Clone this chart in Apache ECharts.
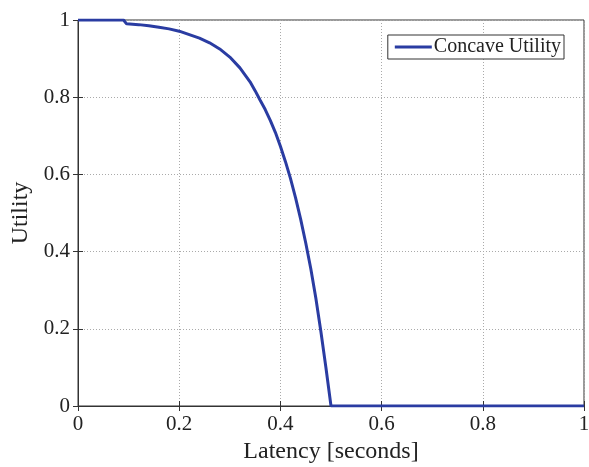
<!DOCTYPE html>
<html>
<head>
<meta charset="utf-8">
<script src="https://cdn.jsdelivr.net/npm/echarts@6/dist/echarts.min.js"></script>
<style>
  html, body { margin: 0; padding: 0; background: #fff; }
  #chart { width: 589px; height: 467px; }
</style>
</head>
<body>
<div id="chart"></div>
<script>
// Latency (seconds) and the utility of a concave utility function
const latency = [0, 0.09, 0.096, 0.12, 0.14, 0.16, 0.18, 0.20, 0.22, 0.24, 0.26, 0.28, 0.30, 0.32, 0.34, 0.35, 0.36, 0.37, 0.38, 0.39, 0.40, 0.41, 0.42, 0.43, 0.44, 0.45, 0.46, 0.47, 0.48, 0.49, 0.50, 1.0];
const utility = [1, 1, 0.99, 0.988, 0.985, 0.981, 0.977, 0.971, 0.962, 0.953, 0.941, 0.925, 0.904, 0.876, 0.840, 0.817, 0.792, 0.768, 0.740, 0.709, 0.673, 0.633, 0.589, 0.539, 0.484, 0.423, 0.356, 0.280, 0.193, 0.099, 0, 0];
const xTicks = [0, 0.2, 0.4, 0.6, 0.8, 1];
const yTicks = [0, 0.2, 0.4, 0.6, 0.8, 1];
const seriesName = 'Concave Utility';

const serif = '"Liberation Serif", "DejaVu Serif", serif';
const axisColor = '#333';
const lineColor = '#2a3ca2';

const points = latency.map((x, i) => [x, utility[i]]);

function baseAxis(extra) {
  return Object.assign({
    type: 'value',
    min: 0,
    max: 1,
    interval: 0.2,
    axisLine: { show: true, lineStyle: { color: axisColor, width: 1 } },
    axisTick: { show: true, inside: true, length: 5, lineStyle: { color: axisColor } },
    splitLine: { show: false },
    axisLabel: { show: false }
  }, extra);
}

const gridDots = { show: true, lineStyle: { color: '#aaa', type: [1, 2], width: 1 } };

const chart = echarts.init(document.getElementById('chart'), null, { renderer: 'canvas' });
chart.setOption({
  backgroundColor: '#fff',
  animation: false,
  grid: {
    left: 78, top: 20, width: 506, height: 386,
    containLabel: false,
    outerBoundsMode: 'none',
    show: true, borderColor: axisColor, borderWidth: 1
  },
  legend: {
    data: [{ name: seriesName, icon: 'rect' }],
    right: 25,
    top: 35,
    orient: 'vertical',
    itemWidth: 37,
    itemHeight: 3,
    padding: [2, 3, 2, 7],
    borderColor: '#333',
    borderWidth: 1,
    backgroundColor: '#fff',
    textStyle: { fontFamily: serif, fontSize: 20, lineHeight: 20, color: '#222', padding: [0, 0, 0, -3] }
  },
  xAxis: [
    baseAxis({
      position: 'bottom',
      name: 'Latency [seconds]',
      nameLocation: 'middle',
      nameGap: 33,
      nameTextStyle: { fontFamily: serif, fontSize: 24, color: '#222' },
      splitLine: gridDots,
      axisLabel: {
        show: true, margin: 8, fontFamily: serif, fontSize: 21, color: '#222',
        formatter: v => xTicks.includes(+v.toFixed(1)) ? String(+v.toFixed(1)) : ''
      }
    }),
    baseAxis({ position: 'top' })
  ],
  yAxis: [
    baseAxis({
      position: 'left',
      name: 'Utility',
      nameLocation: 'middle',
      nameGap: 44,
      nameTextStyle: { fontFamily: serif, fontSize: 24, color: '#222' },
      splitLine: gridDots,
      axisLabel: {
        show: true, margin: 8, fontFamily: serif, fontSize: 21, color: '#222',
        formatter: v => yTicks.includes(+v.toFixed(1)) ? String(+v.toFixed(1)) : ''
      }
    }),
    baseAxis({ position: 'right' })
  ],
  series: [{
    name: seriesName,
    type: 'line',
    data: points,
    xAxisIndex: 0,
    yAxisIndex: 0,
    showSymbol: false,
    smooth: false,
    lineStyle: { color: lineColor, width: 3 },
    itemStyle: { color: lineColor },
    z: 5
  }]
});
</script>
</body>
</html>
